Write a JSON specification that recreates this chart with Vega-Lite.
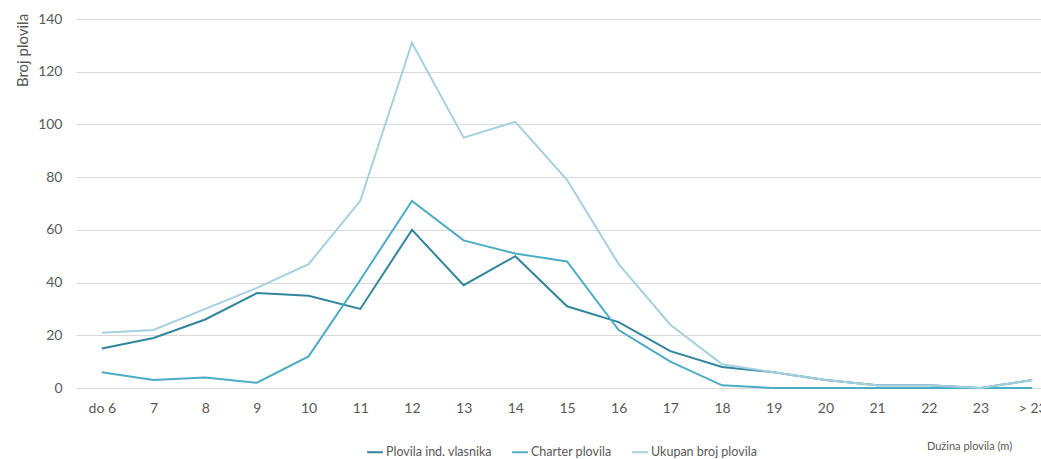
{
  "$schema": "https://vega.github.io/schema/vega-lite/v6.json",
  "width": 982,
  "height": 369,
  "autosize": {"type": "none"},
  "padding": {"left": 76, "top": 19, "right": 0, "bottom": 71},
  "background": "white",
  "config": {
    "view": {"stroke": null},
    "font": "Lato",
    "axis": {"labelFont": "Lato", "titleFont": "Lato", "labelColor": "#595959", "titleColor": "#595959"},
    "legend": {"labelFont": "Lato"}
  },
  "data": {
    "values": [
      {"d": "do 6", "s": "Plovila ind. vlasnika", "v": 15},
      {"d": "7", "s": "Plovila ind. vlasnika", "v": 19},
      {"d": "8", "s": "Plovila ind. vlasnika", "v": 26},
      {"d": "9", "s": "Plovila ind. vlasnika", "v": 36},
      {"d": "10", "s": "Plovila ind. vlasnika", "v": 35},
      {"d": "11", "s": "Plovila ind. vlasnika", "v": 30},
      {"d": "12", "s": "Plovila ind. vlasnika", "v": 60},
      {"d": "13", "s": "Plovila ind. vlasnika", "v": 39},
      {"d": "14", "s": "Plovila ind. vlasnika", "v": 50},
      {"d": "15", "s": "Plovila ind. vlasnika", "v": 31},
      {"d": "16", "s": "Plovila ind. vlasnika", "v": 25},
      {"d": "17", "s": "Plovila ind. vlasnika", "v": 14},
      {"d": "18", "s": "Plovila ind. vlasnika", "v": 8},
      {"d": "19", "s": "Plovila ind. vlasnika", "v": 6},
      {"d": "20", "s": "Plovila ind. vlasnika", "v": 3},
      {"d": "21", "s": "Plovila ind. vlasnika", "v": 1},
      {"d": "22", "s": "Plovila ind. vlasnika", "v": 1},
      {"d": "23", "s": "Plovila ind. vlasnika", "v": 0},
      {"d": "> 23", "s": "Plovila ind. vlasnika", "v": 3},
      {"d": "do 6", "s": "Charter plovila", "v": 6},
      {"d": "7", "s": "Charter plovila", "v": 3},
      {"d": "8", "s": "Charter plovila", "v": 4},
      {"d": "9", "s": "Charter plovila", "v": 2},
      {"d": "10", "s": "Charter plovila", "v": 12},
      {"d": "11", "s": "Charter plovila", "v": 41},
      {"d": "12", "s": "Charter plovila", "v": 71},
      {"d": "13", "s": "Charter plovila", "v": 56},
      {"d": "14", "s": "Charter plovila", "v": 51},
      {"d": "15", "s": "Charter plovila", "v": 48},
      {"d": "16", "s": "Charter plovila", "v": 22},
      {"d": "17", "s": "Charter plovila", "v": 10},
      {"d": "18", "s": "Charter plovila", "v": 1},
      {"d": "19", "s": "Charter plovila", "v": 0},
      {"d": "20", "s": "Charter plovila", "v": 0},
      {"d": "21", "s": "Charter plovila", "v": 0},
      {"d": "22", "s": "Charter plovila", "v": 0},
      {"d": "23", "s": "Charter plovila", "v": 0},
      {"d": "> 23", "s": "Charter plovila", "v": 0},
      {"d": "do 6", "s": "Ukupan broj plovila", "v": 21},
      {"d": "7", "s": "Ukupan broj plovila", "v": 22},
      {"d": "8", "s": "Ukupan broj plovila", "v": 30},
      {"d": "9", "s": "Ukupan broj plovila", "v": 38},
      {"d": "10", "s": "Ukupan broj plovila", "v": 47},
      {"d": "11", "s": "Ukupan broj plovila", "v": 71},
      {"d": "12", "s": "Ukupan broj plovila", "v": 131},
      {"d": "13", "s": "Ukupan broj plovila", "v": 95},
      {"d": "14", "s": "Ukupan broj plovila", "v": 101},
      {"d": "15", "s": "Ukupan broj plovila", "v": 79},
      {"d": "16", "s": "Ukupan broj plovila", "v": 47},
      {"d": "17", "s": "Ukupan broj plovila", "v": 24},
      {"d": "18", "s": "Ukupan broj plovila", "v": 9},
      {"d": "19", "s": "Ukupan broj plovila", "v": 6},
      {"d": "20", "s": "Ukupan broj plovila", "v": 3},
      {"d": "21", "s": "Ukupan broj plovila", "v": 1},
      {"d": "22", "s": "Ukupan broj plovila", "v": 1},
      {"d": "23", "s": "Ukupan broj plovila", "v": 0},
      {"d": "> 23", "s": "Ukupan broj plovila", "v": 3}
    ]
  },
  "mark": {"type": "line", "strokeWidth": 2},
  "encoding": {
    "x": {
      "field": "d",
      "type": "ordinal",
      "sort": null,
      "scale": {"type": "point", "padding": 0.5},
      "axis": {
        "title": "Dužina plovila (m)",
        "titleFontSize": 11,
        "titleFontWeight": "normal",
        "titleX": 893,
        "titleY": 58,
        "titleAlign": "center",
        "titleBaseline": "middle",
        "labelAngle": 0,
        "labelFontSize": 14,
        "labelPadding": 13,
        "ticks": false,
        "domain": false,
        "grid": false
      }
    },
    "y": {
      "field": "v",
      "type": "quantitative",
      "scale": {"domain": [0, 140]},
      "axis": {
        "title": "Broj plovila",
        "titleFontSize": 15,
        "titleFontWeight": "normal",
        "titleX": -54,
        "titleY": 31,
        "titleAlign": "center",
        "titleBaseline": "middle",
        "values": [0, 20, 40, 60, 80, 100, 120, 140],
        "labelFontSize": 14,
        "labelPadding": 14,
        "ticks": false,
        "domain": false,
        "gridColor": "#d9d9d9",
        "gridWidth": 1
      }
    },
    "color": {
      "field": "s",
      "type": "nominal",
      "sort": ["Plovila ind. vlasnika", "Charter plovila", "Ukupan broj plovila"],
      "scale": {
        "domain": ["Plovila ind. vlasnika", "Charter plovila", "Ukupan broj plovila"],
        "range": ["#31859c", "#4bacc6", "#a5d0de"]
      },
      "legend": {
        "title": null,
        "orient": "none",
        "direction": "horizontal",
        "legendX": 290,
        "legendY": 424,
        "symbolType": "stroke",
        "symbolSize": 250,
        "symbolStrokeWidth": 2,
        "labelFontSize": 12.5,
        "labelColor": "#595959",
        "labelOffset": 2,
        "columnPadding": 16
      }
    }
  }
}
